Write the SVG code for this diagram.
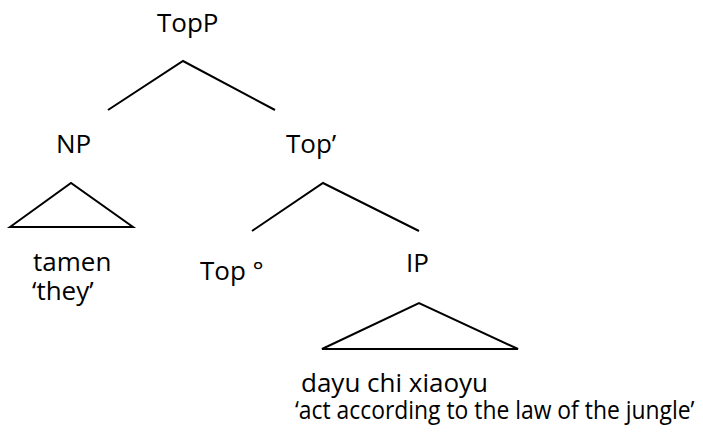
<svg xmlns="http://www.w3.org/2000/svg" width="703" height="433" viewBox="0 0 703 433">
<style>
text{font-family:"Open Sans","Noto Sans","Liberation Sans",sans-serif;font-size:26px;fill:#000}
.e{stroke:#000;stroke-width:2;fill:none;stroke-linejoin:miter}
</style>
<rect width="703" height="433" fill="#fff"/>
<g id="connectors">
<polyline class="e" points="108,110 183,61 275,110"/>
<polyline class="e" points="252,231 323,183 419,231"/>
<polygon class="e" points="10,227 71,183 133,227"/>
<polygon class="e" points="322,349 419,303 518,349"/>
</g>
<g id="TopP"><text x="157" y="32">TopP</text></g>
<g id="NP"><text x="56" y="153">NP</text></g>
<g id="TopBar"><text x="286" y="153">Top’</text></g>
<g id="tamen"><text x="33" y="271">tamen</text><text x="32" y="300">‘they’</text></g>
<g id="Top0"><text x="200" y="280">Top °</text></g>
<g id="IP"><text x="406" y="272">IP</text></g>
<g id="IPterm"><text x="301" y="392">dayu chi xiaoyu</text><text transform="translate(295,419) scale(0.88,1)">‘act according to the law of the jungle’</text></g>
</svg>
